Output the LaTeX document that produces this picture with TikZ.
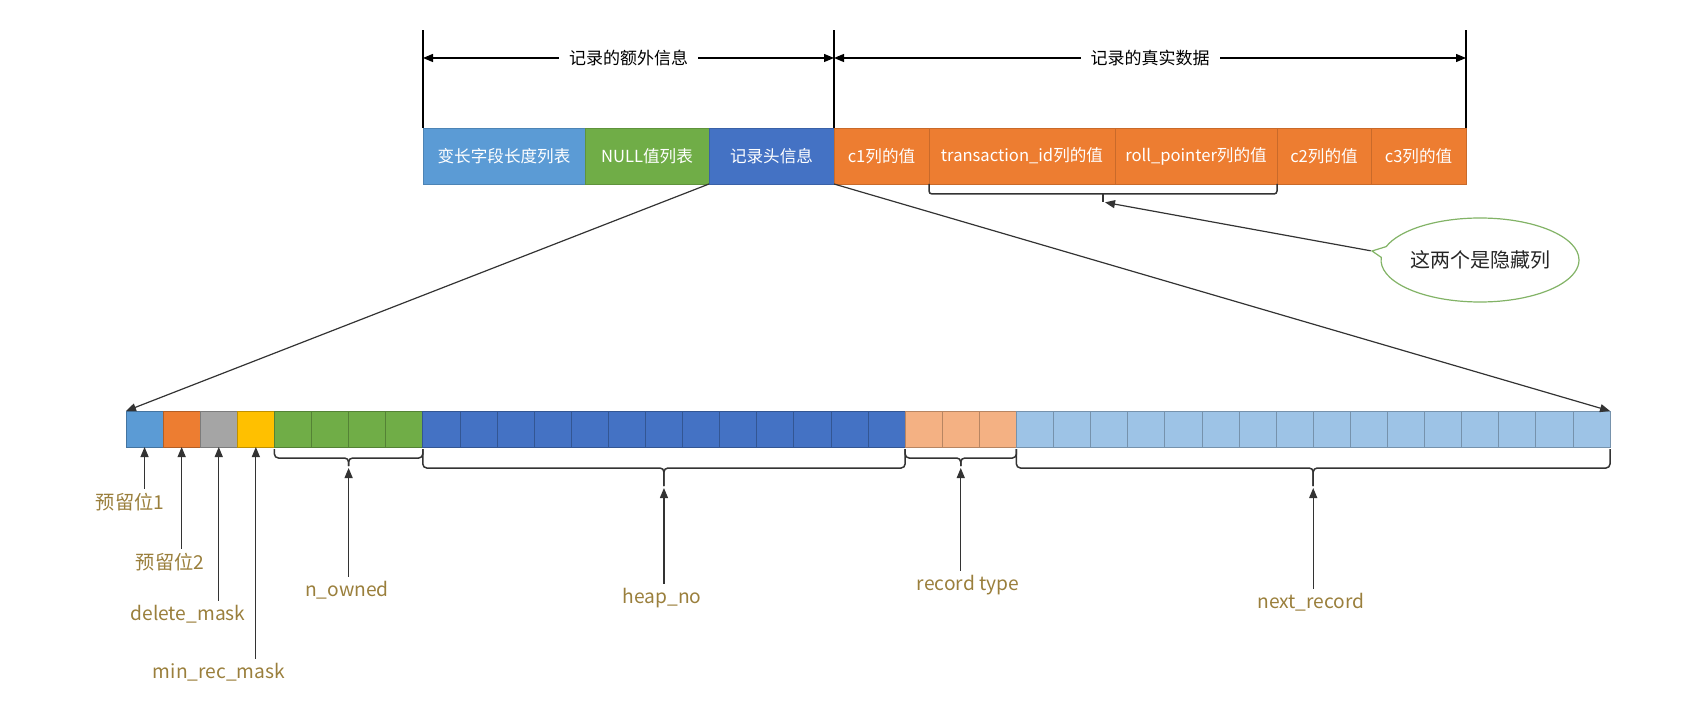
\documentclass[tikz,border=0pt]{standalone}
\usepackage{fontspec}
\setmainfont{Noto Sans CJK SC}
\usetikzlibrary{arrows.meta,positioning,shapes.callouts,calc}
\definecolor{varblue}{HTML}{5B9BD5}
\definecolor{nullgreen}{HTML}{70AD47}
\definecolor{hdrblue}{HTML}{4472C4}
\definecolor{datorange}{HTML}{ED7D31}
\definecolor{bitgray}{HTML}{A5A5A5}
\definecolor{bityellow}{HTML}{FFC000}
\definecolor{typeorange}{HTML}{F4B183}
\definecolor{nextblue}{HTML}{9DC3E6}
\definecolor{lblgold}{HTML}{9A7F3C}
\definecolor{hintgreen}{HTML}{82B366}

\begin{document}
\begin{tikzpicture}[
  x=0.5pt, y=-0.5pt,
  field/.style={rectangle, draw=#1!85!black, fill=#1, text=white, minimum height=28pt,
                inner sep=0pt, outer sep=0pt, font=\fontsize{8.3}{10}\selectfont},
  bit/.style={rectangle, draw=#1!75!black, fill=#1, minimum width=18.55pt,
              minimum height=18pt, inner sep=0pt, outer sep=0pt},
  lbl/.style={text=lblgold, inner sep=2pt, font=\fontsize{9.6}{11}\selectfont},
  arr/.style={-{Triangle[length=5pt,width=4pt]}, line width=0.6pt, draw=black!80},
  dim/.style={{Triangle[length=5pt,width=4pt]}-{Triangle[length=5pt,width=4pt]}, line width=0.6pt},
  brc/.style={line width=0.75pt, draw=black!80, rounded corners=2pt},
  node distance=0pt
]
  \useasboundingbox (0,0) rectangle (1700,710);

  % record layout
  \node[field=varblue, minimum width=81pt, anchor=north west] (varlen) at (423,128) {变长字段长度列表};
  \node[field=nullgreen, minimum width=62pt, right=of varlen] (nulls) {NULL值列表};
  \node[field=hdrblue, minimum width=62.5pt, right=of nulls] (header) {记录头信息};
  \node[field=datorange, minimum width=47.5pt, right=of header] (c1) {c1列的值};
  \node[field=datorange, minimum width=93pt, right=of c1] (trx) {transaction\_id列的值};
  \node[field=datorange, minimum width=81pt, right=of trx] (roll) {roll\_pointer列的值};
  \node[field=datorange, minimum width=47pt, right=of roll] (c2) {c2列的值};
  \node[field=datorange, minimum width=47.5pt, right=of c2] (c3) {c3列的值};

  % extent marks
  \draw[line width=0.6pt] (varlen.north west) -- ++(0,-98) coordinate (e0);
  \draw[line width=0.6pt] (header.north east) -- ++(0,-98) coordinate (e1);
  \draw[line width=0.6pt] (c3.north east) -- ++(0,-98) coordinate (e2);
  \draw[dim] ($(e0)+(0,28)$) -- ($(e1)+(0,28)$)
    node[midway, fill=white, inner xsep=5pt, font=\fontsize{8.5}{10}\selectfont] (extra) {记录的额外信息};
  \draw[dim] ($(e1)+(0,28)$) -- ($(e2)+(0,28)$)
    node[midway, fill=white, inner xsep=5pt, font=\fontsize{8.5}{10}\selectfont] (real) {记录的真实数据};

  % header bits
  \foreach \lo/\hi/\col in {0/0/varblue, 1/1/datorange, 2/2/bitgray, 3/3/bityellow,
                            4/7/nullgreen, 8/20/hdrblue, 21/23/typeorange, 24/39/nextblue}
    \foreach \i in {\lo,...,\hi}
      \node[bit=\col] (b\i) at ({144.55+37.1*\i}, 429) {};

  \draw[arr] (header.south west) -- (b0.north west);
  \draw[arr] (header.south east) -- (b39.north east);

  % braces under bit groups
  \foreach \lo/\hi/\lv/\tp/\nm in {4/7/458/466/own, 8/20/468/486/heap,
                                   21/23/458/466/rtype, 24/39/468/486/next} {
    \coordinate (\nm-l) at ($(b\lo.south west)+(0,2)$);
    \coordinate (\nm-r) at ($(b\hi.south east)+(0,2)$);
    \coordinate (\nm-m) at ($(\nm-l)!.5!(\nm-r)$);
    \coordinate (\nm-tip) at (\nm-m |- 0,\tp);
    \draw[brc] (\nm-l) |- (\nm-m |- 0,\lv) -- (\nm-tip);
    \draw[brc] (\nm-r) |- (\nm-m |- 0,\lv) -- (\nm-tip);
  }

  % field names
  \node[lbl] (rsv1) at (130,502) {预留位1};
  \node[lbl] (rsv2) at (170,562) {预留位2};
  \node[lbl] (delmask) at (188,614) {delete\_mask};
  \node[lbl] (minrec) at (219,672) {min\_rec\_mask};
  \node[lbl] (nowned) at (347,590) {n\_owned};
  \node[lbl] (heapno) at (662,598) {heap\_no};
  \node[lbl] (rtype) at (968,585) {record type};
  \node[lbl] (nextrec) at (1311,602) {next\_record};

  \foreach \lab/\cell in {rsv1/b0, rsv2/b1, delmask/b2, minrec/b3}
    \draw[arr] (\cell.south |- \lab.north) -- (\cell.south);
  \foreach \lab/\tip in {nowned/own-tip, heapno/heap-tip, rtype/rtype-tip, nextrec/next-tip}
    \draw[arr, shorten >=1pt] (\tip |- \lab.north) -- (\tip);

  % hidden columns
  \draw[brc, rounded corners=1.5pt] (trx.south west) -- ++(0,10) -| (roll.south east);
  \coordinate (hid-m) at ($(trx.south west)!.5!(roll.south east)+(0,10)$);
  \draw[brc] (hid-m) -- ++(0,8) coordinate (hid-tip);

  \node[ellipse callout, draw=hintgreen, line width=0.6pt, fill=white, inner sep=0pt,
        minimum width=93pt, minimum height=42pt, callout absolute pointer={(1372,251)},
        text=black!85, font=\fontsize{10}{12}\selectfont] (hint) at (1480,260) {这两个是隐藏列};
  \draw[arr, shorten >=1pt] (hint.pointer) -- (hid-tip);
\end{tikzpicture}
\end{document}
